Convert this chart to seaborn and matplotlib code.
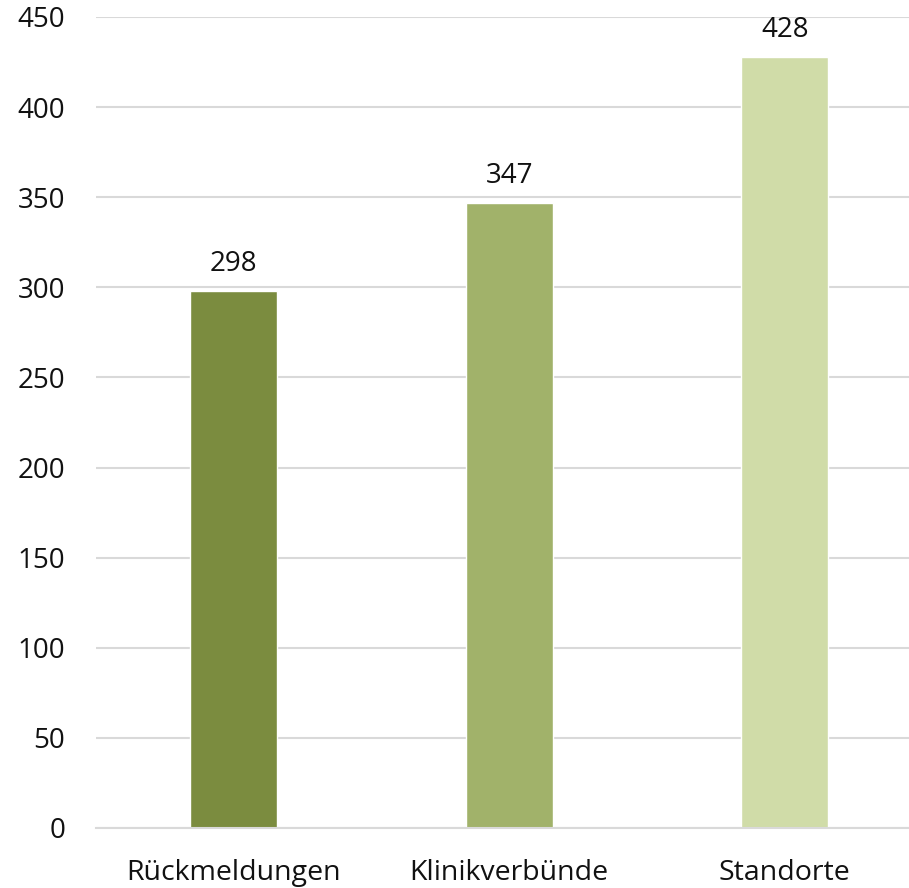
import matplotlib
matplotlib.use("Agg")
import matplotlib.pyplot as plt
import seaborn as sns
import pandas as pd

categories = ["Rückmeldungen", "Klinikverbünde", "Standorte"]
values = [298, 347, 428]
colors = ["#7B8C3F", "#A1B26A", "#D0DCA8"]
yticks = [0, 50, 100, 150, 200, 250, 300, 350, 400, 450]

sns.set_theme(style="white")
plt.rcParams['font.family'] = ['Open Sans', 'DejaVu Sans']

df = pd.DataFrame({"cat": categories, "val": values})

fig = plt.figure(figsize=(9.09, 8.88), dpi=100)
ax = fig.add_axes([0.1056, 0.0676, 0.9093, 0.9133])
sns.barplot(data=df, x="cat", y="val", hue="cat", palette=colors, width=0.316,
            legend=False, ax=ax, saturation=1)

ax.set_ylim(0, 450)
ax.set_yticks(yticks)
ax.set_yticklabels([str(t) for t in yticks])
ax.set_xlim(-0.5, 2.5)
ax.yaxis.grid(True, color="#D9D9D9", linewidth=1.5)
ax.set_axisbelow(True)
for s in ["top", "right", "left"]:
    ax.spines[s].set_visible(False)
ax.spines["bottom"].set_color("#D9D9D9")
ax.spines["bottom"].set_linewidth(1.5)
ax.set_xlabel("")
ax.set_ylabel("")
ax.tick_params(axis="both", length=0, colors="#111111")
ax.tick_params(axis="y", pad=22, labelsize=20)
ax.tick_params(axis="x", pad=22, labelsize=20.5)
for c in ax.containers:
    ax.bar_label(c, labels=[str(int(v)) for v in c.datavalues], padding=9,
                 fontsize=20, color="#111111")

fig.savefig("out.png", dpi=100)
